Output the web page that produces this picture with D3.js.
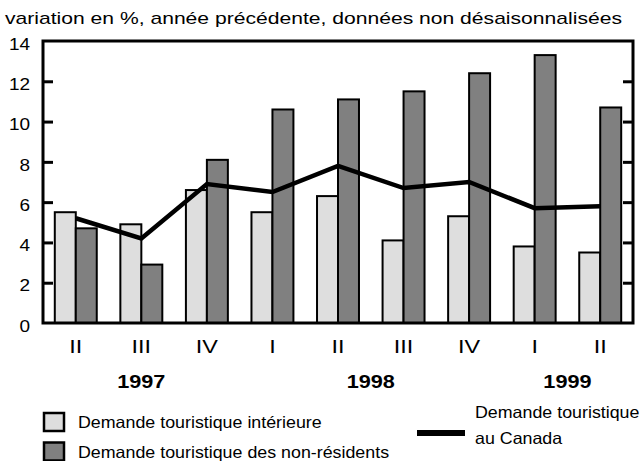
<!DOCTYPE html>
<html><head><meta charset="utf-8">
<script src="https://cdn.jsdelivr.net/npm/d3@7"></script>
<style>body{margin:0;background:#fff}svg{display:block;font-family:"Liberation Sans",Arial,sans-serif}</style>
</head><body><svg id="c" width="642" height="461"></svg>
<script>
const quarters = ["II","III","IV","I","II","III","IV","I","II"];
const years = [{label:"1997", at:1},{label:"1998", at:4.5},{label:"1999", at:7.5}];
const interieure = [5.5, 4.9, 6.6, 5.5, 6.3, 4.1, 5.3, 3.8, 3.5];
const nonResidents = [4.7, 2.9, 8.1, 10.6, 11.1, 11.5, 12.4, 13.3, 10.7];
const canada = [5.2, 4.2, 6.9, 6.5, 7.8, 6.7, 7.0, 5.7, 5.8];
const yTicks = [0, 2, 4, 6, 8, 10, 12, 14];
const title = "variation en %, année précédente, données non désaisonnalisées";
const legendBars = ["Demande touristique intérieure", "Demande touristique des non-résidents"];
const legendLine = ["Demande touristique", "au Canada"];
const colors = {light:"#dedede", dark:"#808080"};

const svg = d3.select("#c");
const L = 43, R = 633, T = 41, B = 323;
const idx = d3.range(quarters.length);
const x = d3.scaleBand().domain(idx).range([L, R]).paddingInner(0.36).paddingOuter(0.18);
const step = x.step();
const xs = d3.scaleBand().domain([0,1]).range([0, x.bandwidth()]);
const y = d3.scaleLinear().domain([0, 14]).range([B, T]);
const cx = i => x(i) + x.bandwidth()/2;

// horizontally widen text (the reference face is wider than Liberation Sans)
function stretch(sel, k) {
  sel.each(function() {
    const w = this.getComputedTextLength();
    d3.select(this).attr("textLength", w * k).attr("lengthAdjust", "spacingAndGlyphs");
  });
}

svg.append("text").attr("x", 5).attr("y", 24).attr("font-size", 17).attr("fill", "#000")
  .attr("textLength", 617).attr("lengthAdjust", "spacingAndGlyphs").text(title);

const g = svg.append("g");
[interieure, nonResidents].forEach((arr, s) => {
  g.selectAll(null).data(arr).enter().append("rect")
    .attr("x", (d,i) => x(i) + xs(s))
    .attr("y", d => y(d))
    .attr("width", xs.bandwidth())
    .attr("height", d => y(0) - y(d))
    .attr("fill", s === 0 ? colors.light : colors.dark)
    .attr("stroke", "#000").attr("stroke-width", 2);
});

// frame
svg.append("rect").attr("x", L).attr("y", T).attr("width", R-L).attr("height", B-T)
  .attr("fill", "none").attr("stroke", "#000").attr("stroke-width", 3);

// y axis (left labels, ticks inward on both sides)
const yl = svg.append("g").attr("transform", `translate(${L},0)`)
  .call(d3.axisLeft(y).tickValues(yTicks).tickSize(0).tickPadding(13).tickFormat(d3.format("d")));
yl.select(".domain").remove();
yl.selectAll("text").attr("font-size", 16.5).attr("dy", "0.5em")
  .attr("font-family", "Liberation Sans, Arial, sans-serif").attr("fill","#000").call(stretch, 1.15);
const inner = yTicks.filter(v => v > 0 && v < 14);
svg.append("g").attr("transform", `translate(${L},0)`)
  .call(d3.axisRight(y).tickValues(inner).tickSize(10).tickFormat(""))
  .call(a => a.select(".domain").remove())
  .selectAll("line").attr("stroke", "#000").attr("stroke-width", 3);
svg.append("g").attr("transform", `translate(${R},0)`)
  .call(d3.axisLeft(y).tickValues(inner).tickSize(10).tickFormat(""))
  .call(a => a.select(".domain").remove())
  .selectAll("line").attr("stroke", "#000").attr("stroke-width", 3);

// line
svg.append("path").datum(canada)
  .attr("d", d3.line().x((d,i) => cx(i)).y(d => y(d)))
  .attr("fill", "none").attr("stroke", "#000").attr("stroke-width", 4.5).attr("stroke-linejoin", "miter");

// x axis labels
const xa = svg.append("g").attr("transform", `translate(0,${B})`)
  .call(d3.axisBottom(x).tickSize(0).tickPadding(17).tickFormat(i => quarters[i]));
xa.select(".domain").remove();
xa.selectAll("text").attr("font-size", 18).attr("font-family", "Liberation Sans, Arial, sans-serif")
  .attr("fill","#000").call(stretch, 1.3);

svg.selectAll(".year").data(years).enter().append("text").attr("class", "year")
  .attr("x", d => x(0) + x.bandwidth()/2 + d.at * step)
  .attr("y", 388).attr("text-anchor", "middle").attr("font-size", 18.5).attr("font-weight", "bold")
  .text(d => d.label).call(stretch, 1.17);

// legend
legendBars.forEach((t, i) => {
  const yy = 413 + i * 29.5;
  svg.append("rect").attr("x", 44).attr("y", yy).attr("width", 20).attr("height", 18)
    .attr("fill", i === 0 ? colors.light : colors.dark).attr("stroke", "#000").attr("stroke-width", 2.5);
  svg.append("text").attr("x", 78).attr("y", yy + 15).attr("font-size", 16.5).text(t).call(stretch, 1.08);
});
svg.append("line").attr("x1", 417).attr("x2", 465).attr("y1", 433).attr("y2", 433)
  .attr("stroke", "#000").attr("stroke-width", 6);
legendLine.forEach((t, i) => {
  svg.append("text").attr("x", 475).attr("y", 418 + i * 26).attr("font-size", 16.5).text(t).call(stretch, 1.08);
});
</script></body></html>
